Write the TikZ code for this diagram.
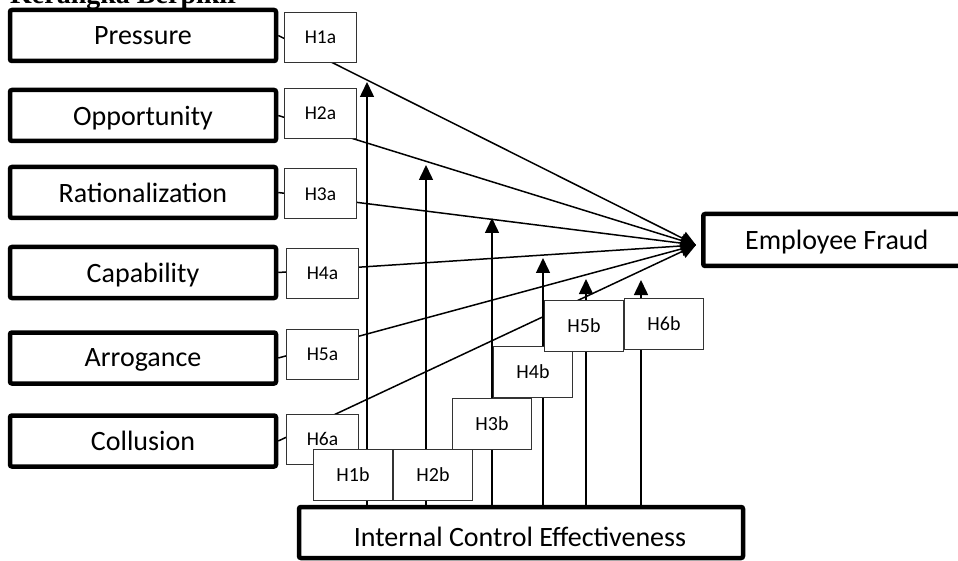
\documentclass[tikz,border=0pt]{standalone}
\usepackage{fontspec}
\setmainfont{Carlito}
\newfontfamily\titlefont{Liberation Serif}
\usetikzlibrary{arrows.meta}

\tikzset{
  construct/.style={draw, line width=4.5pt, rounded corners=2pt, fill=white,
    minimum width=266pt, minimum height=51pt, inner sep=0pt, text depth=-4pt,
    font=\fontsize{28}{30}\selectfont},
  hyp/.style={draw=black!80, line width=1pt, fill=white, inner sep=0pt,
    minimum width=72pt, minimum height=50pt, font=\fontsize{19.5}{21}\selectfont},
  hypb/.style={hyp, minimum width=79pt, minimum height=51pt, font=\fontsize{20}{21}\selectfont},
  link/.style={line width=1.5pt, -{Triangle[length=15pt,width=14pt]}},
}

\begin{document}
\begin{tikzpicture}[x=1pt, y=-1pt]
\useasboundingbox (0,0) rectangle (958,561);
\fill[white] (0,0) rectangle (958,561);

% heading, mostly above the page edge
\node[anchor=base west, inner sep=0pt, font=\titlefont\bfseries\fontsize{28}{30}\selectfont] (title) at (10,4) {Kerangka Berpikir};

% independent constructs
\node[construct] (p) at (143,35.5) {Pressure};
\node[construct] (o) at (143,115.5) {Opportunity};
\node[construct] (r) at (143,192.5) {Rationalization};
\node[construct] (c) at (143,272.5) {Capability};
\node[construct] (a) at (143,358) {Arrogance};
\node[construct] (k) at (143,441) {Collusion};

% dependent construct and moderator
\node[construct, minimum width=267pt, minimum height=52pt, anchor=west] (ef) at (701,240) {Employee Fraud};
\node[construct, minimum width=444pt, minimum height=51pt] (ic) at (521,532.5) {};
\node[font=\fontsize{28}{30}\selectfont] (ictext) at (520,537) {Internal Control Effectiveness};

% convergence point and moderation tips
\coordinate (hub) at (696,245);
\coordinate (t1) at (367,82);
\coordinate (t2) at (426,165);
\coordinate (t3) at (492,218);
\coordinate (t4) at (543,258);
\coordinate (t5) at (586,279);
\coordinate (t6) at (641,280);

% direct effects
\foreach \n in {p,o,r,c,a,k}
  \draw[link] (\n.east) -- (hub);

% moderating effects
\foreach \t in {t1,t2,t3,t4,t5,t6}
  \draw[link] (ic.north -| \t) -- (\t);

% hypothesis labels
\node[hyp] (h1a) at (320.5,37.5) {H1a};
\node[hyp] (h2a) at (320.5,113.5) {H2a};
\node[hyp] (h3a) at (320.5,194) {H3a};
\node[hyp] (h4a) at (322.5,273.5) {H4a};
\node[hyp] (h5a) at (322.5,354) {H5a};
\node[hyp] (h6a) at (322.5,439) {H6a};

\node[hypb] (h1b) at (353,475) {H1b};
\node[hypb] (h2b) at (433,475) {H2b};
\node[hypb] (h3b) at (492,423.5) {H3b};
\node[hypb] (h4b) at (533,372) {H4b};
\node[hypb] (h5b) at (584,325.5) {H5b};
\node[hypb] (h6b) at (664,323.5) {H6b};
\end{tikzpicture}
\end{document}
